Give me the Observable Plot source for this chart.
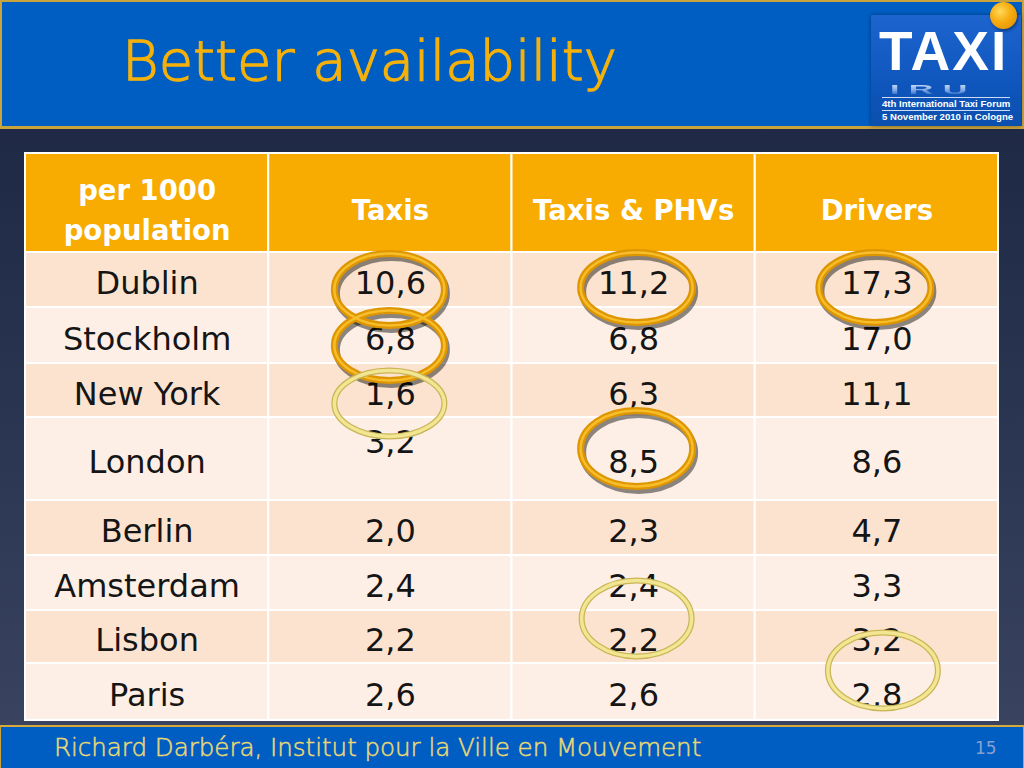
<!DOCTYPE html>
<html><head><meta charset="utf-8">
<script src="https://cdn.jsdelivr.net/npm/d3@7"></script>
<script src="https://cdn.jsdelivr.net/npm/@observablehq/plot@0.6"></script>
<style>
html,body{margin:0;padding:0;width:1024px;height:768px;overflow:hidden;}
body{background:linear-gradient(to bottom,#1a2440 0%,#27324f 45%,#3b4562 100%);position:relative;font-family:"DejaVu Sans",sans-serif;}
#header{position:absolute;left:0;top:0;width:1020px;height:124px;background:#005ec3;border:2px solid #c9a33c;border-bottom-width:3px;}
#title{position:absolute;left:122px;top:33px;font-size:56px;line-height:55px;color:#f5b10a;font-weight:200;-webkit-text-stroke:1.3px #f5b10a;letter-spacing:0px;font-family:"DejaVu Sans",sans-serif;white-space:nowrap;}
#logo{position:absolute;left:871px;top:15px;width:150px;height:111px;background:linear-gradient(to bottom,#1e64cf 0%,#0f56bd 60%,#0b4fae 100%);box-shadow:0 0 4px rgba(0,0,0,0.4);}
#taxi{position:absolute;left:879px;top:29px;font-family:"Liberation Sans",Arial,sans-serif;font-weight:bold;font-size:55px;line-height:44px;color:#fff;letter-spacing:2px;}
#iru{position:absolute;left:890px;top:82.5px;font-family:"Liberation Sans",Arial,sans-serif;font-weight:bold;font-size:22px;line-height:24.6px;letter-spacing:6px;transform:scale(1.55,0.6);transform-origin:0 0;
  background:linear-gradient(to bottom,rgba(230,240,255,0.95) 0%,rgba(200,220,255,0.6) 50%,rgba(40,100,200,0.05) 90%);-webkit-background-clip:text;background-clip:text;color:transparent;}
.small{position:absolute;left:882px;width:128px;font-family:"Liberation Sans",Arial,sans-serif;font-weight:bold;font-size:9.6px;line-height:12px;color:#fff;white-space:nowrap;border-top:1px solid rgba(255,255,255,0.8);}
#ball{position:absolute;left:990px;top:2px;width:27px;height:27px;border-radius:50%;background:radial-gradient(circle at 38% 35%,#ffd95a 0%,#f6ab0e 45%,#d98a00 100%);box-shadow:1px 2px 3px rgba(0,0,0,0.4);}
#chart{position:absolute;left:0;top:130px;}
#footer{position:absolute;left:0;top:725px;width:1022px;height:41px;background:#005ec3;border:1px solid #c9a33c;border-top:2px solid #d4aa3c;}
#foottext{position:absolute;left:54px;top:736px;font-size:24.5px;line-height:23px;color:#e9d873;font-weight:200;-webkit-text-stroke:0.5px #e9d873;font-family:"DejaVu Sans",sans-serif;white-space:nowrap;}
#page{position:absolute;left:975px;top:740px;font-size:17px;line-height:17px;color:#86a0d2;font-family:"DejaVu Sans",sans-serif;}
</style>
</head><body>
<div id="header"></div>
<div id="title">Better availability</div>
<div id="logo"></div>
<div id="taxi">TAXI</div>
<div id="iru">IRU</div>
<div class="small" style="top:97px">4th International Taxi Forum</div>
<div class="small" style="top:110px">5 November 2010 in Cologne</div>
<div id="ball"></div>
<div id="chart"></div>
<div id="footer"></div>
<div id="foottext">Richard Darbéra, Institut pour la Ville en Mouvement</div>
<div id="page">15</div>
<script>
// ---- data ----
const cities = ["Dublin","Stockholm","New York","London","Berlin","Amsterdam","Lisbon","Paris"];
const headerLabels = ["per 1000\npopulation","Taxis","Taxis & PHVs","Drivers"];
const taxis = [10.6,6.8,1.6,3.2,2.0,2.4,2.2,2.6];
const taxisPhv = [11.2,6.8,6.3,8.5,2.3,2.4,2.2,2.6];
const drivers = [17.3,17.0,11.1,8.6,4.7,3.3,3.2,2.8];
const strongRings = [["Dublin","Taxis"],["Stockholm","Taxis"],["Dublin","Taxis & PHVs"],["Dublin","Drivers"],["London","Taxis & PHVs"]];
const paleRings = [["New York","Taxis"],["Lisbon","Taxis & PHVs"],["Paris","Drivers"]];

// ---- layout ----
const headerH = 99;
const rowH = [55,56,54,83,55,55,53,57];
const total = headerH + d3.sum(rowH);
const rowTop = []; {let t = headerH; for (const h of rowH){ rowTop.push(t); t += h; }}
const cellDy = {"London|Taxis": -20};
const ringOffset = {
  "Dublin|Taxis":[-1,9.5,55,36], "Stockholm|Taxis":[-1,10,55,35],
  "Dublin|Taxis & PHVs":[3,7.5,56,35], "Dublin|Drivers":[-2,7.5,56,35],
  "London|Taxis & PHVs":[3,-10.5,56,38],
  "New York|Taxis":[-1,13,55,33], "Lisbon|Taxis & PHVs":[3,-18.5,55,38], "Paris|Drivers":[6,-21.5,55,38]
};
const headFill = "#f8ab00", darkRow = "#fce3cf", lightRow = "#fdefe5";

const fmt = d3.formatLocale({decimal:",", thousands:".", grouping:[3], currency:["","€"]}).format(".1f");
const series = [taxis, taxisPhv, drivers];

const cells = [];
for (let j = 0; j < 4; j++) cells.push({x1:j, x2:j+1, y1:0, y2:headerH, fill:headFill});
cities.forEach((c,i) => { for (let j = 0; j < 4; j++) cells.push({x1:j, x2:j+1, y1:rowTop[i], y2:rowTop[i]+rowH[i], fill: i%2===0 ? darkRow : lightRow}); });

const headTexts = headerLabels.map((t,j) => ({x:j+0.5, y:headerH/2, text:t}));
const bodyTexts = [];
cities.forEach((c,i) => {
  const yc = rowTop[i] + rowH[i]/2;
  bodyTexts.push({x:0.5, y:yc, text:c});
  series.forEach((s,k) => {
    const key = c + "|" + headerLabels[k+1];
    bodyTexts.push({x:k+1.5, y:yc + (cellDy[key]||0), text:fmt(s[i])});
  });
});

function ringData(list){
  return list.map(([c,col]) => {
    const i = cities.indexOf(c), j = headerLabels.indexOf(col);
    const o = ringOffset[c+"|"+col];
    return {x: j+0.5 + o[0]/243.25, y: rowTop[i] + rowH[i]/2 + o[1], rx:o[2], ry:o[3]};
  });
}
function ellipse(rx, ry){
  const k = 0.5522847498;
  return {draw(ctx){
    ctx.moveTo(rx,0);
    ctx.bezierCurveTo(rx, ry*k, rx*k, ry, 0, ry);
    ctx.bezierCurveTo(-rx*k, ry, -rx, ry*k, -rx, 0);
    ctx.bezierCurveTo(-rx, -ry*k, -rx*k, -ry, 0, -ry);
    ctx.bezierCurveTo(rx*k, -ry, rx, -ry*k, rx, 0);
    ctx.closePath();
  }};
}
function ringMarks(list, opts, label){
  return ringData(list).map(d => Plot.dot([d], {x:"x", y:"y", r:1, symbol: ellipse(d.rx, d.ry), fill:"none", ariaLabel: label, ...opts}));
}

const chart = Plot.plot({
  width: 1024, height: 597,
  marginLeft: 25, marginRight: 26, marginTop: 23, marginBottom: 7,
  x: {domain:[0,4], axis:null},
  y: {domain:[0,total], range:[23,590], axis:null},
  color: {type:"identity"},
  style: {background:"transparent", fontFamily:"DejaVu Sans, sans-serif", overflow:"visible"},
  marks: [
    Plot.rect(cells, {x1:"x1", x2:"x2", y1:"y1", y2:"y2", fill:"fill", stroke:"#ffffff", strokeWidth:2}),
    Plot.text(headTexts, {x:"x", y:"y", text:"text", fill:"#ffffff", fontSize:27.5, fontWeight:"bold", lineHeight:1.45, dy:4}),
    Plot.text(bodyTexts, {x:"x", y:"y", text:"text", fill:"#151515", fontSize:32, dy:4}),
    ...ringMarks(strongRings, {stroke:"#000", strokeOpacity:0.45, strokeWidth:7, dx:2, dy:4}, "ring-shadow"),
    ...ringMarks(strongRings, {stroke:"#de9600", strokeWidth:7}, "ring-strong"),
    ...ringMarks(strongRings, {stroke:"#f7bd2a", strokeWidth:2.5}, "ring-strong-hi"),
    ...ringMarks(paleRings, {stroke:"#c9b557", strokeWidth:6}, "ring-pale"),
    ...ringMarks(paleRings, {stroke:"#f2e693", strokeWidth:3.5}, "ring-pale-hi")
  ]
});
const ns = "http://www.w3.org/2000/svg";
const defs = document.createElementNS(ns, "defs");
defs.innerHTML = '<filter id="blur" x="-20%" y="-20%" width="140%" height="140%"><feGaussianBlur stdDeviation="2.5"/></filter>';
chart.insertBefore(defs, chart.firstChild);
chart.querySelectorAll('[aria-label="ring-shadow"]').forEach(g => g.setAttribute("filter","url(#blur)"));
document.getElementById("chart").appendChild(chart);
</script>
</body></html>
